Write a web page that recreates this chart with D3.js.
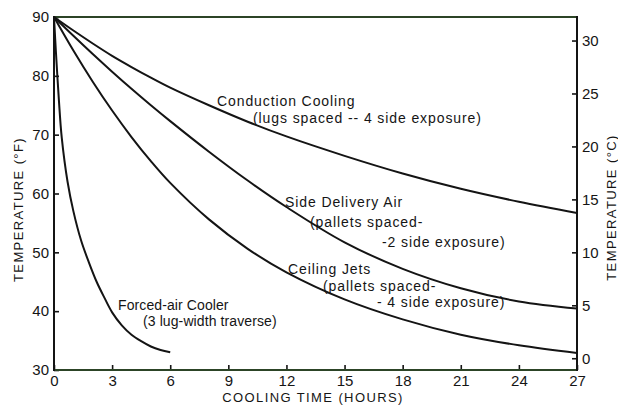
<!DOCTYPE html>
<html>
<head>
<meta charset="utf-8">
<script src="https://cdn.jsdelivr.net/npm/d3@7"></script>
<style>
  html, body { margin: 0; padding: 0; background: #fff; }
  svg { display: block; font-family: "Liberation Sans", Arial, sans-serif; }
  .tick text { font-size: 15px; fill: #151515; }
  .lbl { font-size: 14px; fill: #151515; letter-spacing: 0.9px; }
  .title { font-size: 13px; fill: #151515; letter-spacing: 1.4px; }
</style>
</head>
<body>
<svg id="chart" width="618" height="406"></svg>
<script>
// Cooling time (hours) and product temperature (°F) for each cooling method
const xTicks = [0, 3, 6, 9, 12, 15, 18, 21, 24, 27];
const fTicks = [30, 40, 50, 60, 70, 80, 90];
const cTicks = [0, 5, 10, 15, 20, 25, 30];

const hours = [0, 1, 2, 3, 4, 5, 6, 8, 10, 12, 15, 18, 21, 24, 27];
const conductionF = [90, 87.7, 85.5, 83.4, 81.5, 79.7, 78.0, 75.0, 72.2, 69.7, 66.4, 63.4, 60.8, 58.6, 56.7];
const sideDeliveryF = [90, 86.8, 83.7, 80.7, 77.8, 75.0, 72.3, 67.1, 62.2, 57.7, 51.7, 47.2, 43.9, 41.65, 40.45];
const ceilingJetsF = [90, 84.3, 79.0, 74.1, 69.6, 65.5, 61.8, 55.6, 50.6, 46.6, 42.0, 38.6, 36.0, 34.2, 32.9];

const forcedHours = [0, 0.1, 0.25, 0.4, 0.7, 1, 1.4, 1.8, 2.2, 2.6, 3, 3.5, 4, 4.5, 5, 5.5, 6];
const forcedAirF = [90, 84, 76, 69.5, 62, 57, 52, 48.3, 45, 42.3, 39.8, 37.6, 36, 34.9, 34, 33.4, 33];

const svg = d3.select("#chart");
const L = 54, R = 577, T = 17, B = 370;

const x = d3.scaleLinear().domain([0, 27]).range([L, R]);
const y = d3.scaleLinear().domain([30, 90]).range([B, T]);
const yC = d3.scaleLinear().domain([(30 - 32) / 1.8, (90 - 32) / 1.8]).range([B, T]);

const ink = "#141414";
const frameGreen = "#2c4426";

// Axes with inward ticks
const gLeft = svg.append("g").attr("transform", `translate(${L},0)`)
  .call(d3.axisLeft(y).tickValues(fTicks).tickSize(-5).tickPadding(5).tickFormat(d3.format("d")));
const gBottom = svg.append("g").attr("transform", `translate(0,${B})`)
  .call(d3.axisBottom(x).tickValues(xTicks).tickSize(-5).tickPadding(8).tickFormat(d3.format("d")));
const gRight = svg.append("g").attr("transform", `translate(${R},0)`)
  .call(d3.axisRight(yC).tickValues(cTicks).tickSize(-5).tickPadding(5).tickFormat(d3.format("d")));

[gLeft, gBottom, gRight].forEach(g => {
  g.select(".domain").remove();
  g.selectAll(".tick line").attr("stroke", ink).attr("stroke-width", 1.6);
  g.selectAll(".tick text").attr("fill", ink);
});
gBottom.selectAll(".tick text").attr("dy", "0.55em");

// Frame
svg.append("line").attr("x1", L).attr("x2", R).attr("y1", T).attr("y2", T)
  .attr("stroke", frameGreen).attr("stroke-width", 2);
svg.append("line").attr("x1", L).attr("x2", R).attr("y1", B).attr("y2", B)
  .attr("stroke", frameGreen).attr("stroke-width", 2);
svg.append("line").attr("x1", L).attr("x2", L).attr("y1", T - 1).attr("y2", B + 1)
  .attr("stroke", ink).attr("stroke-width", 2);
svg.append("line").attr("x1", R).attr("x2", R).attr("y1", T - 1).attr("y2", B + 1)
  .attr("stroke", ink).attr("stroke-width", 2);

// Cooling curves
const line = d3.line().x(d => x(d[0])).y(d => y(d[1])).curve(d3.curveCatmullRom.alpha(0.5));
const series = [
  d3.zip(hours, conductionF),
  d3.zip(hours, sideDeliveryF),
  d3.zip(hours, ceilingJetsF),
  d3.zip(forcedHours, forcedAirF)
];
svg.append("g").selectAll("path").data(series).join("path")
  .attr("d", line)
  .attr("fill", "none")
  .attr("stroke", ink)
  .attr("stroke-width", 2)
  .attr("stroke-linejoin", "round");

// Curve annotations
const labels = [
  { t: "Conduction Cooling", x: 217, y: 106 },
  { t: "(lugs spaced -- 4 side exposure)", x: 253, y: 123 },
  { t: "Side Delivery Air", x: 285, y: 207 },
  { t: "(pallets spaced-", x: 310, y: 227 },
  { t: "-2 side exposure)", x: 382, y: 247 },
  { t: "Ceiling Jets", x: 288, y: 274 },
  { t: "(pallets spaced-", x: 323, y: 291 },
  { t: "- 4 side exposure)", x: 377, y: 307 },
  { t: "Forced-air Cooler", x: 118, y: 310, tight: true },
  { t: "(3 lug-width traverse)", x: 143, y: 326, tight: true }
];
svg.append("g").selectAll("text").data(labels).join("text")
  .attr("class", "lbl")
  .attr("x", d => d.x).attr("y", d => d.y)
  .style("letter-spacing", d => d.tight ? "0.1px" : null)
  .text(d => d.t);

// Axis titles
svg.append("text").attr("class", "title")
  .attr("text-anchor", "middle")
  .attr("x", 313).attr("y", 402)
  .text("COOLING TIME (HOURS)");
svg.append("text").attr("class", "title")
  .attr("text-anchor", "middle")
  .attr("transform", `translate(23,${(T + B) / 2 + 16}) rotate(-90)`)
  .text("TEMPERATURE (°F)");
svg.append("text").attr("class", "title")
  .attr("text-anchor", "middle")
  .attr("transform", `translate(616,${(T + B) / 2 + 14}) rotate(-90)`)
  .text("TEMPERATURE (°C)");
</script>
</body>
</html>
